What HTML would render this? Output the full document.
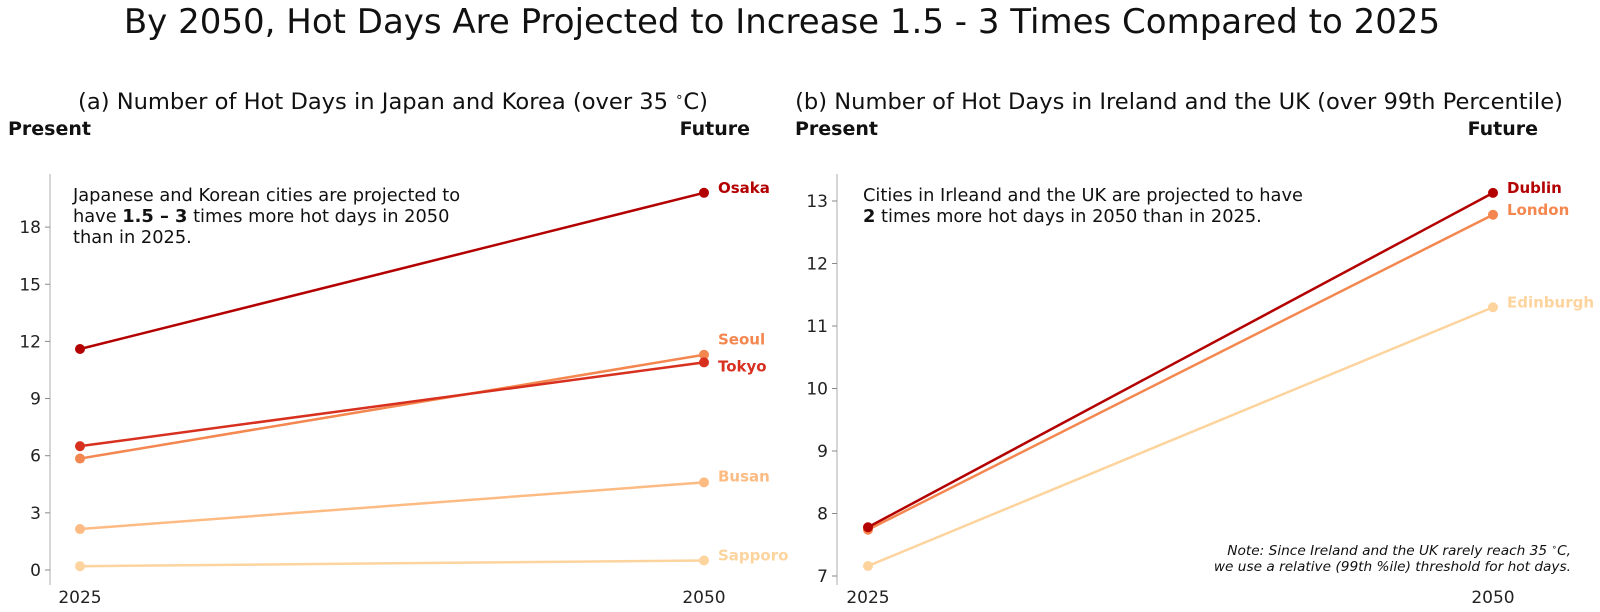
<!DOCTYPE html>
<html><head><meta charset="utf-8"><style>
html,body{margin:0;padding:0;background:#fff;}
svg{display:block;font-family:"DejaVu Sans","Liberation Sans",sans-serif;}
</style></head><body>
<svg id="c" width="1600" height="612" viewBox="0 0 1600 612">
<text x="782" y="33" text-anchor="middle" font-size="34" fill="#111">By 2050, Hot Days Are Projected to Increase 1.5 - 3 Times Compared to 2025</text>
<text x="393" y="109" text-anchor="middle" font-size="22.6" fill="#111">(a) Number of Hot Days in Japan and Korea (over 35 <tspan font-size="13" dy="-8">∘</tspan><tspan dy="8">C)</tspan></text>
<text x="1179" y="109" text-anchor="middle" font-size="22.6" fill="#111">(b) Number of Hot Days in Ireland and the UK (over 99th Percentile)</text>
<text x="8" y="135" font-size="19" font-weight="bold" fill="#111">Present</text>
<text x="750" y="135" text-anchor="end" font-size="19" font-weight="bold" fill="#111">Future</text>
<text x="795" y="135" font-size="19" font-weight="bold" fill="#111">Present</text>
<text x="1538" y="135" text-anchor="end" font-size="19" font-weight="bold" fill="#111">Future</text>
<g font-size="17.8" fill="#111">
<text x="73" y="201">Japanese and Korean cities are projected to</text>
<text x="73" y="222">have <tspan font-weight="bold">1.5 – 3</tspan> times more hot days in 2050</text>
<text x="73" y="243">than in 2025.</text>
</g>
<g font-size="17.8" fill="#111">
<text x="863" y="201">Cities in Irleand and the UK are projected to have</text>
<text x="863" y="222"><tspan font-weight="bold">2</tspan> times more hot days in 2050 than in 2025.</text>
</g>
<g font-size="13.7" font-style="italic" fill="#111" text-anchor="end">
<text x="1571" y="555">Note: Since Ireland and the UK rarely reach 35 <tspan font-size="9" dy="-5">∘</tspan><tspan dy="5">C,</tspan></text>
<text x="1571" y="571">we use a relative (99th %ile) threshold for hot days.</text>
</g>
<g id="L"></g><g id="R"></g>
</svg>
<script>
const years = ["2025","2050"];
const leftCities = ["Sapporo","Busan","Seoul","Tokyo","Osaka"];
const left2025 = [0.2, 2.15, 5.85, 6.5, 11.6];
const left2050 = [0.5, 4.6, 11.3, 10.9, 19.8];
const leftColors = ["#fdd49e","#fdbb84","#f4874f","#d7301f","#b30000"];
const leftLabelDy = [-5, -6, -15, 4, -5];
const leftTicks = [0,3,6,9,12,15,18];
const rightCities = ["Edinburgh","London","Dublin"];
const right2025 = [7.16, 7.74, 7.78];
const right2050 = [11.3, 12.78, 13.13];
const rightColors = ["#fdd49e","#f4874f","#b30000"];
const rightLabelDy = [-5, -5, -5];
const rightTicks = [7,8,9,10,11,12,13];

const NS="http://www.w3.org/2000/svg";
function mk(parent,tag,attrs,text){const e=document.createElementNS(NS,tag);for(const k in attrs)e.setAttribute(k,attrs[k]);if(text!=null)e.textContent=text;parent.appendChild(e);return e;}

function panel(g, cfg){
  const y = v => cfg.y0 - (v - cfg.v0) * cfg.py;
  const x = i => i===0 ? cfg.x0 : cfg.x1;
  const sp = mk(g,'line',{x1:cfg.sx,x2:cfg.sx,y1:174,y2:585,stroke:'#bbb','stroke-width':1.2});
  
  
  cfg.ticks.forEach(t=>{
    mk(g,'line',{x1:cfg.sx-5,x2:cfg.sx,y1:y(t),y2:y(t),stroke:'#888','stroke-width':1});
    const tl = mk(g,'text',{x:cfg.sx-9,y:y(t)+6,'text-anchor':'end','font-size':17,fill:'#222'},String(t));
    
    
  });
  years.forEach((yr,i)=>{
    const xl = mk(g,'text',{x:x(i),y:603,'text-anchor':'middle','font-size':17,fill:'#222'},yr);
    
    
  });
  cfg.cities.forEach((c,i)=>{
    const col=cfg.colors[i];
    const ln = mk(g,'line',{x1:x(0),y1:y(cfg.a[i]),x2:x(1),y2:y(cfg.b[i]),stroke:col,'stroke-width':2.5});
    
    
    [cfg.a[i],cfg.b[i]].forEach((v,j)=>{
      const d = mk(g,'circle',{cx:x(j),cy:y(v),r:5,fill:col});
      
      
    });
    const lb = mk(g,'text',{x:x(1)+14,y:y(cfg.b[i])+cfg.dy[i]+5,'font-size':15,'font-weight':'bold',fill:col},c);
    
    
  });
}
panel(document.getElementById('L'),{p:'left',sx:50,x0:80,x1:704,y0:570,v0:0,py:19.05,ticks:leftTicks,cities:leftCities,a:left2025,b:left2050,colors:leftColors,dy:leftLabelDy});
panel(document.getElementById('R'),{p:'right',sx:837,x0:868,x1:1493,y0:576,v0:7,py:62.5,ticks:rightTicks,cities:rightCities,a:right2025,b:right2050,colors:rightColors,dy:rightLabelDy});
</script>
</body></html>
